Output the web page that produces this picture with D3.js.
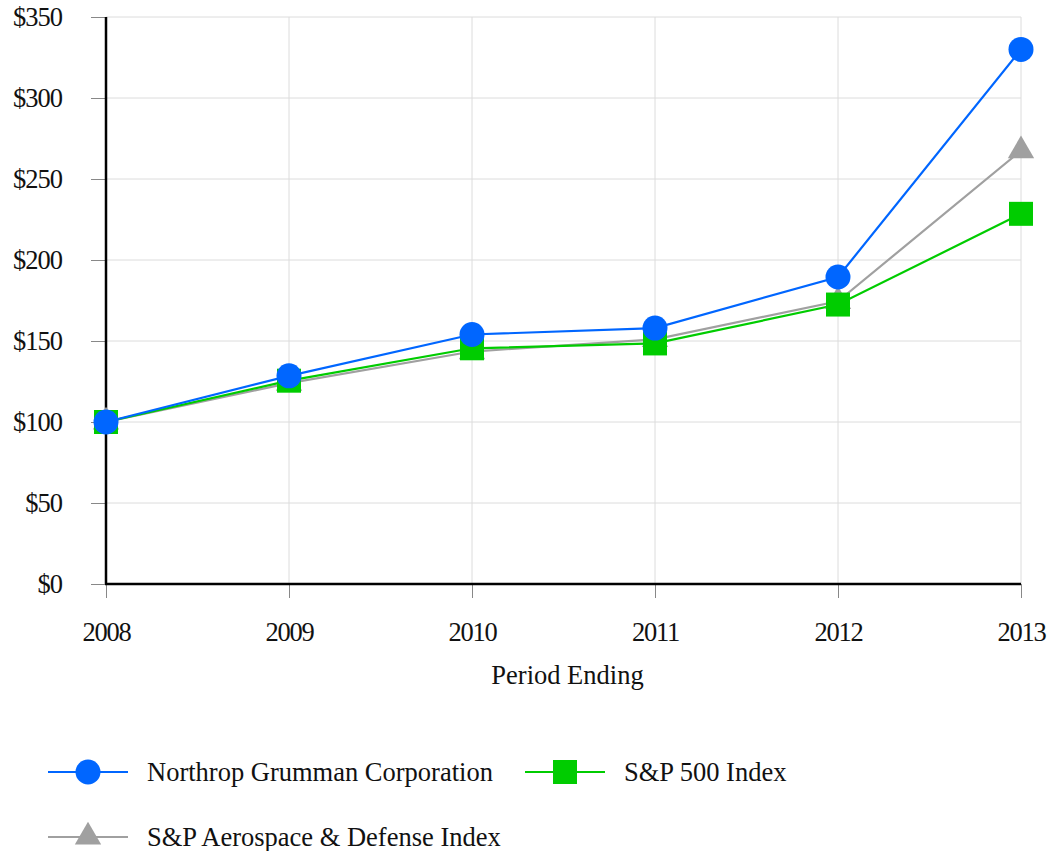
<!DOCTYPE html>
<html>
<head>
<meta charset="utf-8">
<script src="https://cdn.jsdelivr.net/npm/d3@7"></script>
<style>
html,body{margin:0;padding:0;background:#fff;}
svg{display:block;}
svg text{font-family:"Liberation Serif","Times New Roman",serif;}
</style>
</head>
<body>
<svg id="chart" width="1052" height="851"></svg>
<script>
const years = ["2008","2009","2010","2011","2012","2013"];
const yTicks = [0,50,100,150,200,250,300,350];
const northrop = [100,128.5,154,158,189.5,330];
const sp500 = [100,125.5,145.5,148.5,172.5,228.5];
const aerospace = [100,124,143.5,151,174.5,267.5];
const seriesNames = ["Northrop Grumman Corporation","S&P 500 Index","S&P Aerospace & Defense Index"];
const seriesColors = ["#0066ff","#00cc00","#a0a0a0"];
const seriesShapes = ["circle","square","triangle"];

const FS = "26.5px";
const svg = d3.select("#chart");
const x = d3.scalePoint().domain(years).range([106,1021]);
const y = d3.scaleLinear().domain([0,350]).range([584,17]);

// gridlines
svg.append("g").selectAll("line").data(yTicks.slice(1)).join("line")
  .attr("x1",106).attr("x2",1021).attr("y1",d=>y(d)).attr("y2",d=>y(d))
  .attr("stroke","#dcdcdc").attr("stroke-width",1);
svg.append("g").selectAll("line").data(years.slice(1)).join("line")
  .attr("x1",d=>x(d)).attr("x2",d=>x(d)).attr("y1",17).attr("y2",584)
  .attr("stroke","#dcdcdc").attr("stroke-width",1);

// y axis
const yAxis = d3.axisLeft(y).tickValues(yTicks).tickFormat(d=>"$"+d).tickSize(15).tickPadding(29);
const gy = svg.append("g").attr("transform","translate(106,0)").call(yAxis)
  .attr("font-family",null).attr("font-size",null);
gy.select(".domain").remove();
gy.selectAll(".tick line").attr("stroke","#888");
gy.selectAll("text").style("font-size",FS).style("letter-spacing","-1px").attr("fill","#111");
svg.append("line").attr("x1",106).attr("x2",106).attr("y1",17).attr("y2",584)
  .attr("stroke","#000").attr("stroke-width",2.5);

// x axis
const xAxis = d3.axisBottom(x).tickSize(14).tickPadding(24);
const gx = svg.append("g").attr("transform","translate(0,584)").call(xAxis)
  .attr("font-family",null).attr("font-size",null);
gx.select(".domain").remove();
gx.selectAll(".tick line").attr("stroke","#888");
gx.selectAll("text").style("font-size",FS).style("letter-spacing","-1.2px").attr("fill","#111");
svg.append("line").attr("x1",105).attr("x2",1021).attr("y1",584).attr("y2",584)
  .attr("stroke","#000").attr("stroke-width",2.5);

svg.append("text").attr("x",(106+1021)/2+4).attr("y",684).attr("text-anchor","middle")
  .style("font-size",FS).attr("fill","#111").text("Period Ending");

const symSize = {circle: Math.PI*12.5*12.5, square: 24*24, triangle: 300};
const symType = {circle: d3.symbolCircle, square: d3.symbolSquare, triangle: d3.symbolTriangle};

const data = [northrop, sp500, aerospace];
const order = [2,1,0];
const line = d3.line().x((d,i)=>x(years[i])).y(d=>y(d));

order.forEach(k=>{
  svg.append("path").datum(data[k]).attr("d",line)
    .attr("fill","none").attr("stroke",seriesColors[k]).attr("stroke-width",2.2);
});
order.forEach(k=>{
  svg.append("g").selectAll("path").data(data[k]).join("path")
    .attr("transform",(d,i)=>`translate(${x(years[i])},${y(d)})`)
    .attr("d",d3.symbol().type(symType[seriesShapes[k]]).size(symSize[seriesShapes[k]]))
    .attr("fill",seriesColors[k]);
});

// legend
const legendPos = [{x:48,y:772},{x:525,y:772},{x:48,y:837}];
seriesNames.forEach((name,k)=>{
  const g = svg.append("g").attr("transform",`translate(${legendPos[k].x},${legendPos[k].y})`);
  g.append("line").attr("x1",0).attr("x2",80).attr("y1",0).attr("y2",0)
    .attr("stroke",seriesColors[k]).attr("stroke-width",2.2);
  g.append("path").attr("transform","translate(40,0)")
    .attr("d",d3.symbol().type(symType[seriesShapes[k]]).size(symSize[seriesShapes[k]]))
    .attr("fill",seriesColors[k]);
  g.append("text").attr("x",99).attr("y",9).style("font-size",FS).attr("fill","#111").text(name);
});
</script>
</body>
</html>
